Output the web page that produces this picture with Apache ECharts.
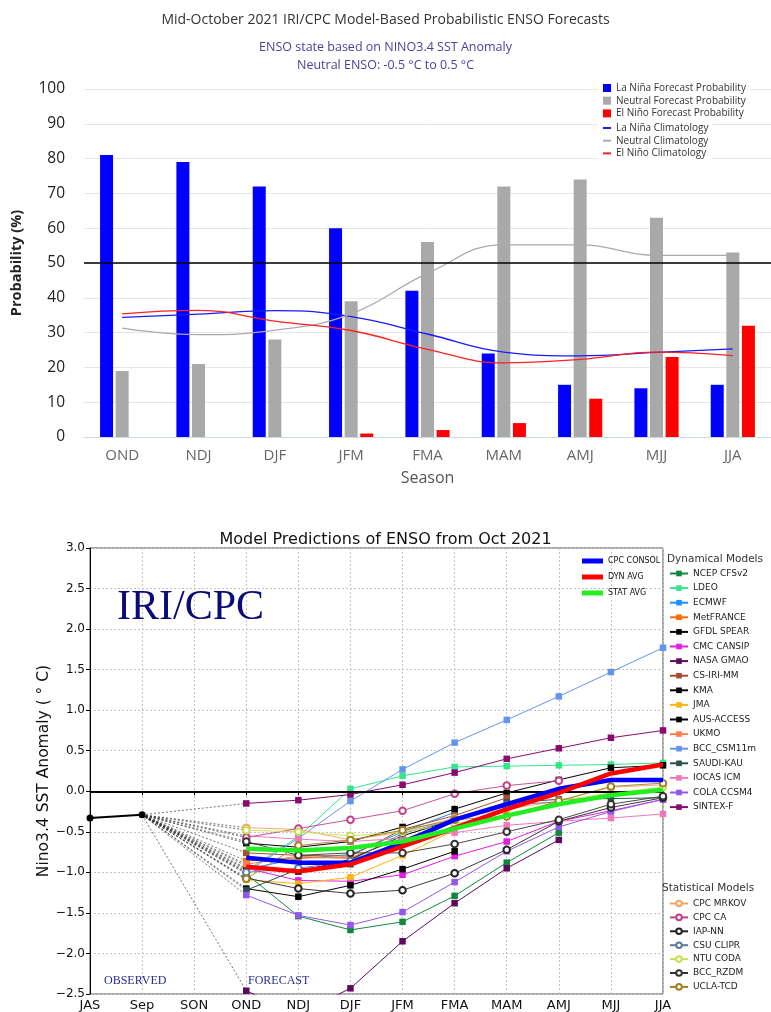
<!DOCTYPE html>
<html><head><meta charset="utf-8">
<script src="https://cdn.jsdelivr.net/npm/echarts@6/dist/echarts.min.js"></script>
<style>html,body{margin:0;padding:0;background:#fff}#c{width:771px;height:1012px}</style>
</head><body><div id="c"></div>
<script>
// ---------- Top chart data ----------
const seasons = ['OND','NDJ','DJF','JFM','FMA','MAM','AMJ','MJJ','JJA'];
const laNinaProb  = [81,79,72,60,42,24,15,14,15];
const neutralProb = [19,21,28,39,56,72,74,63,53];
const elNinoProb  = [0,0,0,1,2,4,11,23,32];
const laNinaClim  = [34.4,35.3,36.3,34.6,29.6,24.4,23.3,24.3,25.3];
const neutralClim = [31.3,29.4,30.7,35.4,47.0,55.2,55.2,52.2,52.2];
const elNinoClim  = [35.4,36.4,33.3,30.6,25.2,21.3,22.3,24.4,23.4];

// ---------- Bottom chart data ----------
const plumeSeasons = ['JAS','Sep','SON','OND','NDJ','DJF','JFM','FMA','MAM','AMJ','MJJ','JJA'];
const observed = [-0.33,-0.29];
// forecast values OND..JJA
const ncepCfsv2  = [-1.02,-1.54,-1.71,-1.61,-1.29,-0.88,-0.51,null,null];
const ldeo       = [-0.98,-0.56,0.03,0.19,0.30,0.31,0.32,0.33,0.35];
const ecmwf      = [-0.96,-0.83,-0.78,-0.50,-0.26,null,null,null,null];
const metFrance  = [-0.86,-0.82,-0.82,-0.58,null,null,null,null,null];
const gfdlSpear  = [-0.64,-0.69,-0.62,-0.44,-0.22,-0.02,0.14,0.29,0.32];
const cmcCansip  = [-0.95,-1.10,-1.11,-1.03,-0.80,-0.62,-0.37,-0.24,-0.10];
const nasaGmao   = [-2.46,-2.75,-2.43,-1.85,-1.38,-0.95,-0.60,null,null];
const csIriMm    = [-0.76,-0.79,-0.80,-0.47,-0.30,-0.08,null,null,null];
const kma        = [-0.92,-0.99,-0.84,-0.55,-0.35,null,null,null,null];
const jma        = [-1.09,-1.14,-1.06,-0.79,-0.48,null,null,null,null];
const ausAccess  = [-1.20,-1.30,-1.16,-0.96,-0.74,null,null,null,null];
const ukmo       = [-0.90,-0.80,-0.83,null,null,null,null,null,null];
const bccCsm11m  = [-1.00,-0.58,-0.12,0.27,0.60,0.88,1.17,1.47,1.77];
const saudiKau   = [-1.22,-0.96,-0.90,-0.60,-0.36,-0.14,-0.10,-0.09,-0.08];
const iocasIcm   = [-0.55,-0.59,-0.62,-0.58,-0.51,-0.42,-0.37,-0.33,-0.28];
const colaCcsm4  = [-1.28,-1.53,-1.65,-1.49,-1.12,-0.74,-0.44,-0.25,-0.10];
const sintexF    = [-0.15,-0.11,-0.04,0.08,0.23,0.40,0.53,0.66,0.75];

const cpcMrkov   = [-0.45,-0.47,-0.60,-0.50,-0.33,-0.22,-0.12,0.05,0.08];
const cpcCa      = [-0.57,-0.46,-0.35,-0.24,-0.03,0.07,0.13,null,null];
const iapNn      = [-1.07,-1.20,-1.26,-1.22,-1.01,-0.72,-0.37,-0.20,-0.08];
const csuClipr   = [-1.00,-0.95,-0.86,-0.52,-0.35,-0.17,-0.13,null,null];
const ntuCoda    = [-0.48,-0.50,-0.55,-0.50,-0.40,-0.30,-0.12,-0.02,0.05];
const bccRzdm    = [-0.62,-0.79,-0.76,-0.76,-0.65,-0.50,-0.35,-0.16,-0.06];
const uclaTcd    = [-1.08,-0.67,-0.60,-0.48,-0.35,-0.31,-0.12,0.06,0.10];

const cpcConsol  = [-0.82,-0.88,-0.88,-0.64,-0.35,-0.16,0.03,0.14,0.14];
const dynAvg     = [-0.93,-0.99,-0.90,-0.68,-0.45,-0.22,-0.02,0.22,0.33];
const statAvg    = [-0.71,-0.73,-0.70,-0.62,-0.46,-0.30,-0.16,-0.05,0.02];

const dynNames  = ['NCEP CFSv2','LDEO','ECMWF','MetFRANCE','GFDL SPEAR','CMC CANSIP','NASA GMAO','CS-IRI-MM','KMA','JMA','AUS-ACCESS','UKMO','BCC_CSM11m','SAUDI-KAU','IOCAS ICM','COLA CCSM4','SINTEX-F'];
const dynValues = [ncepCfsv2,ldeo,ecmwf,metFrance,gfdlSpear,cmcCansip,nasaGmao,csIriMm,kma,jma,ausAccess,ukmo,bccCsm11m,saudiKau,iocasIcm,colaCcsm4,sintexF];
const statNames  = ['CPC MRKOV','CPC CA','IAP-NN','CSU CLIPR','NTU CODA','BCC_RZDM','UCLA-TCD'];
const statValues = [cpcMrkov,cpcCa,iapNn,csuClipr,ntuCoda,bccRzdm,uclaTcd];
const avgNames  = ['CPC CONSOL','DYN AVG','STAT AVG'];
const avgValues = [cpcConsol,dynAvg,statAvg];

// ---------- styles ----------
const dynColors  = ['#10883e','#33e68c','#1e8fff','#ff6a00','#000000','#e11ee1','#5c0a5c','#a0522d','#000000','#ffb310','#000000','#ff7f50','#6495ed','#2f4f4f','#f07ab8','#9457eb','#8b0a6e'];
const statColors = ['#f4a460','#c0408a','#222222','#5a7a9a','#c8e050','#333333','#a08020'];
const avgColors  = ['#0000ff','#ff0000','#22ee22'];

const FONT_TOP = 'Open Sans';
const FONT_BOT = 'DejaVu Sans';

function fc(arr){ return [null,null,null].concat(arr); }

const series = [];
// top chart
series.push({type:'bar',name:'La Niña Forecast Probability',xAxisIndex:0,yAxisIndex:0,data:laNinaProb,barWidth:13,barGap:'20%',itemStyle:{color:'#0000ff'},
  markLine:{silent:true,symbol:'none',label:{show:false},lineStyle:{color:'#000',width:1.5,type:'solid'},data:[{yAxis:50}]}});
series.push({type:'bar',name:'Neutral Forecast Probability',xAxisIndex:0,yAxisIndex:0,data:neutralProb,barWidth:13,barGap:'20%',itemStyle:{color:'#a9a9a9'}});
series.push({type:'bar',name:'El Niño Forecast Probability',xAxisIndex:0,yAxisIndex:0,data:elNinoProb,barWidth:13,barGap:'20%',itemStyle:{color:'#ff0000'}});
[['La Niña Climatology',laNinaClim,'#1a1aff'],['Neutral Climatology',neutralClim,'#aaaaaa'],['El Niño Climatology',elNinoClim,'#ff2020']].forEach(([n,d,c])=>{
  series.push({type:'line',name:n,xAxisIndex:0,yAxisIndex:0,data:d,smooth:0.45,symbol:'none',lineStyle:{color:c,width:1.3},itemStyle:{color:c},z:4});
});

// bottom chart: connectors Sep -> first forecast
const allModels = dynValues.concat(statValues);
allModels.forEach((vals,i)=>{
  series.push({type:'line',name:'_conn'+i,xAxisIndex:1,yAxisIndex:1,data:[[1,observed[1]],[3,vals[0]]],symbol:'none',silent:true,
    lineStyle:{color:'#333',width:0.7,type:[2,2]},z:1});
});
// observed
series.push({type:'line',name:'Observed',xAxisIndex:1,yAxisIndex:1,data:observed,symbol:'circle',symbolSize:7,
  itemStyle:{color:'#000'},lineStyle:{color:'#000',width:2},z:6,
  markLine:{silent:true,symbol:'none',label:{show:false},lineStyle:{color:'#000',width:2.2,type:'solid'},data:[{yAxis:0}]}});
dynNames.forEach((n,i)=>{
  const c = dynColors[i];
  series.push({type:'line',name:n,xAxisIndex:1,yAxisIndex:1,data:fc(dynValues[i]),symbol:'rect',symbolSize:6.5,
    itemStyle:{color:c},lineStyle:{color:c,width:1},z:3});
});
statNames.forEach((n,i)=>{
  const c = statColors[i];
  series.push({type:'line',name:n,xAxisIndex:1,yAxisIndex:1,data:fc(statValues[i]),symbol:'emptyCircle',symbolSize:6.5,
    itemStyle:{color:c,borderColor:c,borderWidth:1},lineStyle:{color:c,width:0.9},z:3});
});
avgNames.forEach((n,i)=>{
  const c = avgColors[i];
  series.push({type:'line',name:n,xAxisIndex:1,yAxisIndex:1,data:fc(avgValues[i]),symbol:'none',
    itemStyle:{color:c},lineStyle:{color:c,width:4.5},z:5});
});

const option = {
  animation:false,
  backgroundColor:'#fff',
  title:[
    {text:'Mid-October 2021 IRI/CPC Model-Based Probabilistic ENSO Forecasts',left:'center',top:8,
      textStyle:{fontFamily:FONT_TOP,fontSize:14,fontWeight:'normal',color:'#333'}},
    {text:'ENSO state based on NINO3.4 SST Anomaly',left:'center',top:36,
      textStyle:{fontFamily:FONT_TOP,fontSize:12.5,fontWeight:'normal',color:'#4b3f9e'}},
    {text:'Neutral ENSO: -0.5 °C to 0.5 °C',left:'center',top:54,
      textStyle:{fontFamily:FONT_TOP,fontSize:12.5,fontWeight:'normal',color:'#4b3f9e'}},
    {text:'Model Predictions of ENSO from Oct 2021',left:'center',top:527,
      textStyle:{fontFamily:FONT_BOT,fontSize:16,fontWeight:'normal',color:'#111'}}
  ],
  legend:[
    {orient:'vertical',left:598,top:79,padding:[4,4,4,5],backgroundColor:'#fff',icon:'rect',itemWidth:8,itemHeight:8,itemGap:2.7,
      data:['La Niña Forecast Probability','Neutral Forecast Probability','El Niño Forecast Probability'],
      textStyle:{fontFamily:FONT_TOP,fontSize:10,color:'#333',lineHeight:8},selectedMode:false},
    {orient:'vertical',left:598,top:119,padding:[4,4,4,5],backgroundColor:'#fff',icon:'rect',itemWidth:8,itemHeight:2,itemGap:2.7,
      data:['La Niña Climatology','Neutral Climatology','El Niño Climatology'],
      textStyle:{fontFamily:FONT_TOP,fontSize:10,color:'#333',lineHeight:9},selectedMode:false},
    {orient:'vertical',left:582,top:557,padding:0,icon:'rect',itemWidth:21,itemHeight:5,itemGap:8,
      data:avgNames,textStyle:{fontFamily:FONT_BOT,fontSize:8,color:'#111',lineHeight:5},selectedMode:false},
    {orient:'vertical',left:669,top:569,padding:0,itemWidth:18,itemHeight:7,itemGap:5.6,
      data:dynNames,textStyle:{fontFamily:FONT_BOT,fontSize:9,color:'#222',lineHeight:7},selectedMode:false},
    {orient:'vertical',left:669,top:899,padding:0,itemWidth:18,itemHeight:7,itemGap:4.9,
      data:statNames,textStyle:{fontFamily:FONT_BOT,fontSize:9,color:'#222',lineHeight:7},selectedMode:false}
  ],
  grid:[
    {left:84,top:89,width:689,height:348},
    {left:90,top:548,width:573,height:446,show:true,borderColor:'#555',borderWidth:1}
  ],
  xAxis:[
    {gridIndex:0,type:'category',data:seasons,boundaryGap:true,
      axisLine:{lineStyle:{color:'#ccd6eb'}},axisTick:{show:false},
      axisLabel:{fontFamily:FONT_TOP,fontSize:15,color:'#666',margin:11},
      name:'Season',nameLocation:'middle',nameGap:33,nameTextStyle:{fontFamily:FONT_TOP,fontSize:16,color:'#555'}},
    {gridIndex:1,type:'category',data:plumeSeasons,boundaryGap:false,
      axisLine:{lineStyle:{color:'#000'}},axisTick:{show:true,length:4,lineStyle:{color:'#000'}},
      axisLabel:{fontFamily:FONT_BOT,fontSize:13,color:'#111',margin:5},
      splitLine:{show:true,lineStyle:{color:'#c4c4c4',type:[2,2],width:1}}}
  ],
  yAxis:[
    {gridIndex:0,type:'value',min:0,max:100,interval:10,
      axisLine:{show:false},axisTick:{show:false},
      axisLabel:{fontFamily:FONT_TOP,fontSize:15.5,color:'#222',margin:19},
      splitLine:{lineStyle:{color:'#e6e6e6',width:1}},
      name:'Probability (%)',nameLocation:'middle',nameGap:60,nameRotate:90,
      nameTextStyle:{fontFamily:FONT_TOP,fontSize:14.5,fontWeight:'bold',color:'#222'}},
    {gridIndex:1,type:'value',min:-2.5,max:3,interval:0.5,
      axisLine:{show:true,lineStyle:{color:'#000'}},axisTick:{show:true,length:4,lineStyle:{color:'#000'}},
      axisLabel:{fontFamily:FONT_BOT,fontSize:12,color:'#111',margin:5,formatter:v=>v.toFixed(1).replace('-','\u2212')},
      splitLine:{show:true,lineStyle:{color:'#c4c4c4',type:[2,2],width:1}},
      name:'Nino3.4 SST Anomaly ( ° C)',nameLocation:'middle',nameGap:38,nameRotate:90,nameMoveOverlap:false,
      nameTextStyle:{fontFamily:FONT_BOT,fontSize:15.5,color:'#111'}}
  ],
  graphic:[
    {type:'text',left:117,top:587,style:{text:'IRI/CPC',font:'42px "Liberation Serif"',fill:'#0a0a78'},z:10},
    {type:'text',left:104,top:975,style:{text:'OBSERVED',font:'12px "Liberation Serif"',fill:'#2b2b8f'},z:10},
    {type:'text',left:248,top:975,style:{text:'FORECAST',font:'12px "Liberation Serif"',fill:'#2b2b8f'},z:10},
    {type:'text',left:667,top:554,style:{text:'Dynamical Models',font:'10.5px "DejaVu Sans"',fill:'#333'},z:10},
    {type:'text',left:662,top:883,style:{text:'Statistical Models',font:'10.5px "DejaVu Sans"',fill:'#333'},z:10}
  ],
  series:series
};
const chart = echarts.init(document.getElementById('c'),null,{renderer:'canvas'});
chart.setOption(option);
</script></body></html>
